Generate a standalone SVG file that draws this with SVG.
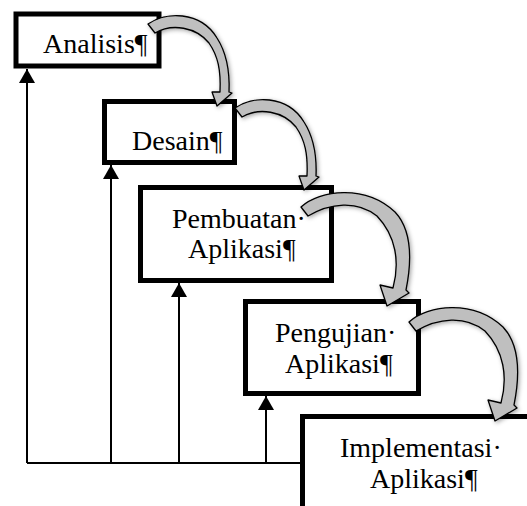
<svg xmlns="http://www.w3.org/2000/svg" width="527" height="506" viewBox="0 0 527 506">
  <defs>
    <style>
      .box { fill: #ffffff; stroke: #000000; stroke-width: 5; }
      .lbl { font-family: "Liberation Serif", "Times New Roman", serif; font-size: 28px; fill: #000000; }
      .line { fill: none; stroke: #000000; stroke-width: 2; }
      .curve { fill: #bfbfbf; stroke: #000000; stroke-width: 1.3; stroke-linejoin: round; filter: url(#shadow); }
    </style>
    <marker id="tri" markerWidth="14" markerHeight="16" refX="14" refY="8" orient="auto" markerUnits="userSpaceOnUse" viewBox="0 0 14 16">
      <path d="M0,0 L14,8 L0,16 Z" fill="#000000"/>
    </marker>
    <filter id="shadow" x="-20%" y="-20%" width="140%" height="140%">
      <feDropShadow dx="1.5" dy="1.5" stdDeviation="2" flood-color="#000000" flood-opacity="0.35"/>
    </filter>
    <path id="bigArrow" d="M301,207 C320,190 365,184 395,212 C410,228 413,255 406,290 L409,293 L387,306 L380,285 L393,288 C400,262 396,236 377,216 C357,200 330,203 308,216 Z"/>
    <path id="smallArrow" d="M148,24 C165,12 200,10 217,38 C226,52 230,68 229,92 L232,93 L217,106 L212,92 L220,92 C221,70 218,56 209,43 C196,27 172,23 155,33 Z"/>
  </defs>

  <g id="connectors">
    <path class="line" d="M27,463 L302,463"/>
    <path class="line" d="M27,463 L27,69" marker-end="url(#tri)"/>
    <path class="line" d="M111,463 L111,165" marker-end="url(#tri)"/>
    <path class="line" d="M179,463 L179,283" marker-end="url(#tri)"/>
    <path class="line" d="M266,463 L266,396" marker-end="url(#tri)"/>
  </g>

  <g id="node-analisis">
    <rect class="box" x="16" y="14" width="143" height="52"/>
    <text class="lbl" x="43" y="53">Analisis¶</text>
  </g>
  <g id="node-desain">
    <rect class="box" x="104.5" y="101.5" width="130" height="61"/>
    <text class="lbl" x="132" y="150">Desain¶</text>
  </g>
  <g id="node-pembuatan">
    <rect class="box" x="140.5" y="187.5" width="191" height="93"/>
    <text class="lbl" x="172" y="228">Pembuatan·</text>
    <text class="lbl" x="188" y="258">Aplikasi¶</text>
  </g>
  <g id="node-pengujian">
    <rect class="box" x="245.5" y="301.5" width="173" height="92"/>
    <text class="lbl" x="275" y="342">Pengujian·</text>
    <text class="lbl" x="285" y="373">Aplikasi¶</text>
  </g>
  <g id="node-implementasi">
    <rect class="box" x="302.5" y="416.5" width="240" height="110"/>
    <text class="lbl" x="340" y="457">Implementasi·</text>
    <text class="lbl" x="370" y="488">Aplikasi¶</text>
  </g>

  <g id="flow-arrows">
    <use href="#smallArrow" class="curve"/>
    <use href="#smallArrow" class="curve" transform="translate(87,84)"/>
    <use href="#bigArrow" class="curve"/>
    <use href="#bigArrow" class="curve" transform="translate(108,115)"/>
  </g>
</svg>
